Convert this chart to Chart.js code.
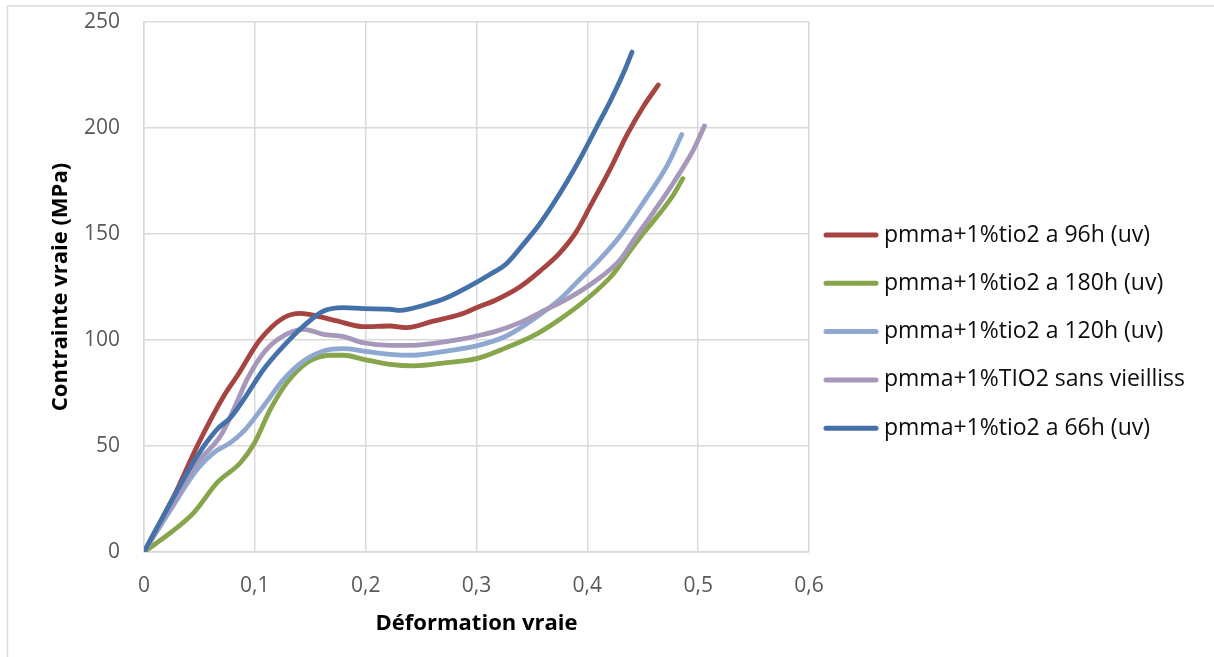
<!DOCTYPE html>
<html>
<head>
<meta charset="utf-8">
<script src="https://cdn.jsdelivr.net/npm/chart.js@4/dist/chart.umd.min.js"></script>
<style>
  html, body { margin: 0; padding: 0; background: #fff; }
  #wrap { width: 1214px; height: 657px; position: relative; }
</style>
</head>
<body>
<div id="wrap"><canvas id="stressChart"></canvas></div>
<script>
// Axis ticks
const xTicks = [0, 0.1, 0.2, 0.3, 0.4, 0.5, 0.6];
const xTickLabels = ['0', '0,1', '0,2', '0,3', '0,4', '0,5', '0,6'];
const yTicks = [0, 50, 100, 150, 200, 250];

// Series names (legend order)
const seriesNames = [
  'pmma+1%tio2 a 96h (uv)',
  'pmma+1%tio2 a 180h (uv)',
  'pmma+1%tio2 a 120h (uv)',
  'pmma+1%TIO2 sans vieilliss',
  'pmma+1%tio2 a 66h (uv)'
];

// 96h
const strain96 = [0, 0.027, 0.048, 0.072, 0.084, 0.105, 0.126, 0.141, 0.156, 0.174, 0.198, 0.222, 0.237, 0.261, 0.285, 0.3, 0.318, 0.339, 0.357, 0.375, 0.39, 0.403, 0.42, 0.436, 0.451, 0.464];
const stress96 = [0, 26.4, 50, 73.6, 83, 100.3, 110.5, 112.6, 111.3, 109, 106.3, 106.6, 105.8, 108.9, 112, 115.2, 119, 125, 132.4, 141, 151, 163.5, 180, 197, 210.5, 220.3];

// 180h
const strain180 = [0, 0.024, 0.045, 0.066, 0.087, 0.099, 0.114, 0.129, 0.147, 0.168, 0.18, 0.198, 0.222, 0.243, 0.273, 0.3, 0.327, 0.351, 0.375, 0.399, 0.423, 0.435, 0.45, 0.4657, 0.4777, 0.4861];
const stress180 = [0, 9.1, 18.6, 32.7, 42.1, 50.8, 67.3, 79.9, 89.3, 92.8, 92.8, 90.9, 88.5, 87.8, 89.3, 91.2, 96.4, 101.9, 109.7, 119.1, 130.9, 139.5, 150, 160, 168.5, 176.1];

// 120h
const strain120 = [0, 0.024, 0.048, 0.063, 0.078, 0.09, 0.108, 0.126, 0.144, 0.162, 0.18, 0.198, 0.222, 0.243, 0.273, 0.3, 0.327, 0.351, 0.375, 0.393, 0.411, 0.431, 0.452, 0.4717, 0.4852];
const stress120 = [0, 20, 39, 46.9, 51.6, 57, 68.9, 81.4, 90.1, 94.8, 95.9, 94.8, 93.2, 92.8, 94.8, 97.2, 101.9, 109.7, 119.1, 128.5, 137.9, 150, 166, 182, 196.9];

// sans vieillissement
const strainRef = [0, 0.024, 0.048, 0.069, 0.081, 0.093, 0.108, 0.123, 0.144, 0.162, 0.18, 0.198, 0.222, 0.243, 0.261, 0.285, 0.3, 0.318, 0.339, 0.363, 0.381, 0.405, 0.429, 0.443, 0.4596, 0.4777, 0.4958, 0.5057];
const stressRef = [0, 21, 42, 54.7, 67.3, 81.4, 94, 101.1, 105, 102.7, 101.6, 98.7, 97.5, 97.5, 98.4, 100.3, 101.9, 104.2, 108.2, 114.4, 119.1, 127, 137.5, 148, 160.2, 174.2, 189.8, 201];

// 66h
const strain66 = [0, 0.024, 0.048, 0.066, 0.078, 0.09, 0.108, 0.126, 0.144, 0.162, 0.18, 0.198, 0.222, 0.231, 0.252, 0.273, 0.291, 0.312, 0.327, 0.342, 0.356, 0.369, 0.382, 0.395, 0.408, 0.421, 0.4325, 0.4403];
const stress66 = [0, 23.3, 45.3, 57.9, 63.4, 72, 86.2, 97.2, 106.6, 113.7, 115.3, 114.8, 114.5, 114, 116.3, 119.9, 124.6, 130.9, 136, 145, 154, 164, 175, 187, 200, 213, 225.8, 235.8];

const colors = ['#A64441', '#87A64B', '#8EA8D1', '#A598BB', '#4471A9'];

function toPoints(xs, ys) {
  return xs.map((x, i) => ({ x: x, y: ys[i] }));
}

const seriesData = [
  toPoints(strain96, stress96),
  toPoints(strain180, stress180),
  toPoints(strain120, stress120),
  toPoints(strainRef, stressRef),
  toPoints(strain66, stress66)
];

// white background and the thin frame around the chart
const framePlugin = {
  id: 'frame',
  beforeDraw(chart) {
    const c = chart.ctx;
    c.save();
    c.fillStyle = '#ffffff';
    c.fillRect(0, 0, chart.width, chart.height);
    c.strokeStyle = '#D9D9D9';
    c.lineWidth = 1.5;
    c.beginPath();
    c.moveTo(7.5, chart.height);
    c.lineTo(7.5, 6);
    c.lineTo(chart.width, 6);
    c.stroke();
    c.restore();
  }
};

// legend on the right, one row per series
const sideLegend = {
  id: 'sideLegend',
  afterDraw(chart) {
    const c = chart.ctx;
    c.save();
    c.font = '23px "Open Sans"';
    c.textBaseline = 'middle';
    c.textAlign = 'left';
    chart.data.datasets.forEach((ds, i) => {
      const y = 235 + i * 48.3;
      c.strokeStyle = ds.borderColor;
      c.lineWidth = 5;
      c.lineCap = 'round';
      c.beginPath();
      c.moveTo(826, y);
      c.lineTo(876, y);
      c.stroke();
      c.fillStyle = '#0D0D0D';
      c.fillText(ds.label, 884, y);
    });
    c.restore();
  }
};

const ctx = document.getElementById('stressChart').getContext('2d');
new Chart(ctx, {
  type: 'line',
  data: {
    datasets: seriesNames.map((name, i) => ({
      label: name,
      data: seriesData[i],
      borderColor: colors[i],
      backgroundColor: colors[i],
      borderWidth: 4.8,
      borderCapStyle: 'round',
      borderJoinStyle: 'round',
      pointRadius: 0,
      cubicInterpolationMode: 'monotone',
      fill: false,
      order: seriesNames.length - i
    }))
  },
  options: {
    responsive: true,
    maintainAspectRatio: false,
    animation: false,
    layout: { padding: { top: 22, right: 405, left: 0, bottom: 0 } },
    plugins: {
      legend: { display: false },
      tooltip: { enabled: false }
    },
    scales: {
      x: {
        type: 'linear',
        min: xTicks[0],
        max: xTicks[xTicks.length - 1],
        afterBuildTicks: (scale) => { scale.ticks = xTicks.map(v => ({ value: v })); },
        afterFit: (scale) => {
          scale.height = 105;
          scale.paddingLeft = 0;
          scale.paddingRight = 0;
        },
        grid: { color: '#D9D9D9', lineWidth: 1.5, drawTicks: false },
        border: { color: '#D9D9D9', width: 1.5 },
        ticks: {
          padding: 21,
          color: '#595959',
          font: { family: 'Open Sans', size: 21 },
          callback: (v, i) => xTickLabels[i]
        },
        title: {
          display: true,
          text: 'Déformation vraie',
          color: '#000',
          font: { family: 'Open Sans', size: 22, weight: 'bold' },
          padding: { top: 0, bottom: 20 }
        }
      },
      y: {
        type: 'linear',
        min: yTicks[0],
        max: yTicks[yTicks.length - 1],
        afterBuildTicks: (scale) => { scale.ticks = yTicks.map(v => ({ value: v })); },
        afterFit: (scale) => {
          scale.width = 144;
          // keep the plot area where the layout padding puts it
          scale.paddingTop = 0;
          scale.paddingBottom = 0;
        },
        grid: { color: '#D9D9D9', lineWidth: 1.5, drawTicks: false },
        border: { color: '#D9D9D9', width: 1.5 },
        ticks: {
          padding: 24,
          color: '#595959',
          font: { family: 'Open Sans', size: 21 }
        },
        title: {
          display: true,
          text: 'Contrainte vraie (MPa)',
          color: '#000',
          font: { family: 'Open Sans', size: 22, weight: 'bold' },
          padding: { top: 48, bottom: 0 }
        }
      }
    }
  },
  plugins: [framePlugin, sideLegend]
});
</script>
</body>
</html>
